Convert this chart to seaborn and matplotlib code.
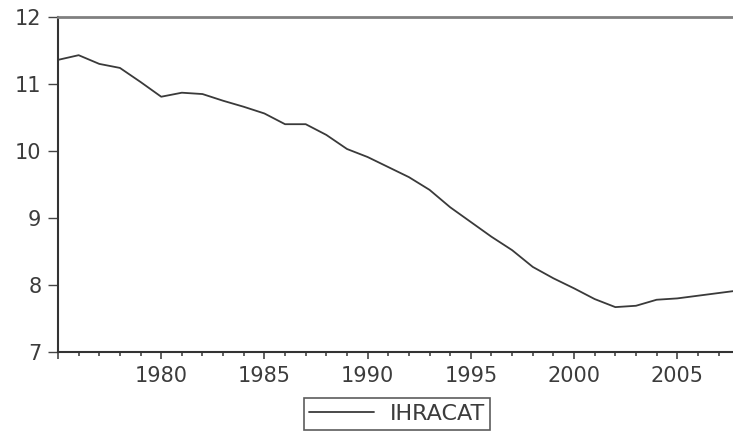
import matplotlib
matplotlib.use("Agg")
import matplotlib.pyplot as plt
import matplotlib.ticker as ticker
import pandas as pd
import seaborn as sns

# yearly series (1975-2008)
years = list(range(1975, 2009))
ihracat = [
    11.36, 11.43, 11.30, 11.24, 11.03, 10.81, 10.87, 10.85, 10.75, 10.66,
    10.56, 10.40, 10.40, 10.24, 10.03, 9.91, 9.76, 9.61, 9.42, 9.16,
    8.94, 8.72, 8.52, 8.27, 8.10, 7.95, 7.79, 7.67, 7.69, 7.78,
    7.80, 7.84, 7.88, 7.92,
]
x_ticks = [1975, 1980, 1985, 1990, 1995, 2000, 2005]
x_labels = ["", "1980", "1985", "1990", "1995", "2000", "2005"]
y_ticks = [7, 8, 9, 10, 11, 12]

sns.set_style("ticks")
plt.rcParams["font.family"] = ["DejaVu Sans"]

df = pd.DataFrame({"year": years, "IHRACAT": ihracat})

fig = plt.figure(figsize=(7.33, 4.32), dpi=100)
ax = fig.add_axes([58 / 733, 80 / 432, 1 - 58 / 733, 335 / 432])

sns.lineplot(data=df, x="year", y="IHRACAT", color="#3a3a3a",
             linewidth=1.3, label="IHRACAT", legend=False, ax=ax)

ax.set_xlim(1975, 2007.7)
ax.set_ylim(7, 12)
ax.set_xticks(x_ticks)
ax.set_xticklabels(x_labels)
ax.xaxis.set_minor_locator(ticker.MultipleLocator(1))
ax.set_yticks(y_ticks)
ax.set_xlabel("")
ax.set_ylabel("")

ax.tick_params(axis="y", which="major", direction="out", length=7,
               width=1, color="#444444", labelsize=15, labelcolor="#3c3c3c",
               pad=5)
ax.tick_params(axis="x", which="major", direction="out", length=5,
               width=1.2, color="#444444", labelsize=15, labelcolor="#3c3c3c",
               pad=5)
ax.tick_params(axis="x", which="minor", direction="out", length=3,
               width=1.2, color="#444444")

for side in ("left", "bottom"):
    ax.spines[side].set_color("#333333")
    ax.spines[side].set_linewidth(1.5)
ax.spines["top"].set_color("#808080")
ax.spines["top"].set_linewidth(2)
ax.spines["right"].set_visible(False)

handles, labels = ax.get_legend_handles_labels()
leg = fig.legend(handles, labels, loc="center", bbox_to_anchor=(397 / 733, 18 / 432),
                 frameon=True, fancybox=False, fontsize=16, handlelength=2.9,
                 handletextpad=0.7, borderpad=0.25, borderaxespad=0)
leg.get_frame().set_edgecolor("#333333")
leg.get_frame().set_linewidth(1.2)
for t in leg.get_texts():
    t.set_color("#3c3c3c")

fig.savefig("out.png", dpi=100, facecolor="white")
plt.close(fig)
